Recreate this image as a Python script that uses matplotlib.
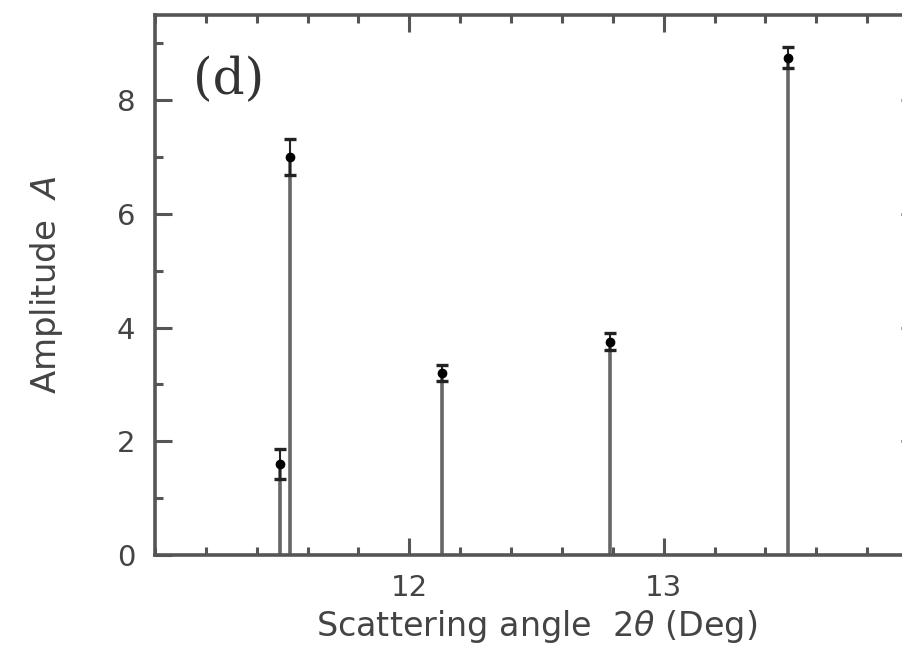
import numpy as np
import matplotlib
matplotlib.use("Agg")
from matplotlib import pyplot as plt
from matplotlib.ticker import MultipleLocator

# Peak positions (scattering angle, deg) and fitted amplitudes
angle = [11.49, 11.53, 12.13, 12.79, 13.49]
amp = [1.6, 7.0, 3.2, 3.75, 8.75]
amp_err = [0.27, 0.32, 0.14, 0.15, 0.18]

plt.rcParams['font.family'] = ['DejaVu Sans']
plt.rcParams['mathtext.fontset'] = 'dejavusans'

fig = plt.figure(figsize=(9.03, 6.70), dpi=100)
# axes box runs a bit past the right edge, as in the scanned figure
ax = fig.add_axes([155 / 903., 115 / 670., 763 / 903., 540 / 670.])

grey = '#555555'
ax.vlines(angle, 0, amp, color='#666666', lw=2.6)
ax.errorbar(angle, amp, yerr=amp_err, fmt='o', color='black', ms=6,
	ecolor='#222222', elinewidth=1.5, capsize=4, capthick=2.4)

ax.set_xlim(11.0, 14.0)
ax.set_ylim(0, 9.5)
ax.xaxis.set_major_locator(MultipleLocator(1))
ax.xaxis.set_minor_locator(MultipleLocator(0.2))
ax.yaxis.set_major_locator(MultipleLocator(2))
ax.yaxis.set_minor_locator(MultipleLocator(1))
ax.set_xticks([12, 13])

ax.tick_params(which='both', direction='in', top=True, right=True,
	color=grey, labelcolor='#444444', labelsize=21, pad=14)
ax.tick_params(which='major', length=12, width=2.2)
ax.tick_params(which='minor', length=6, width=2.2)
for sp in ax.spines.values():
	sp.set_color(grey)
	sp.set_linewidth(2.6)

ax.set_xlabel(r'Scattering angle  $2\theta$ (Deg)', fontsize=24,
	color='#444444', labelpad=4)
ax.set_ylabel(r'Amplitude  $A$', fontsize=24.5, color='#444444')
ax.yaxis.set_label_coords(-0.118, 0.5)

ax.text(0.05, 0.878, '(d)', transform=ax.transAxes, fontsize=36,
	family='DejaVu Serif', color='#333333', va='center')

plt.savefig('out.png', dpi=100)
